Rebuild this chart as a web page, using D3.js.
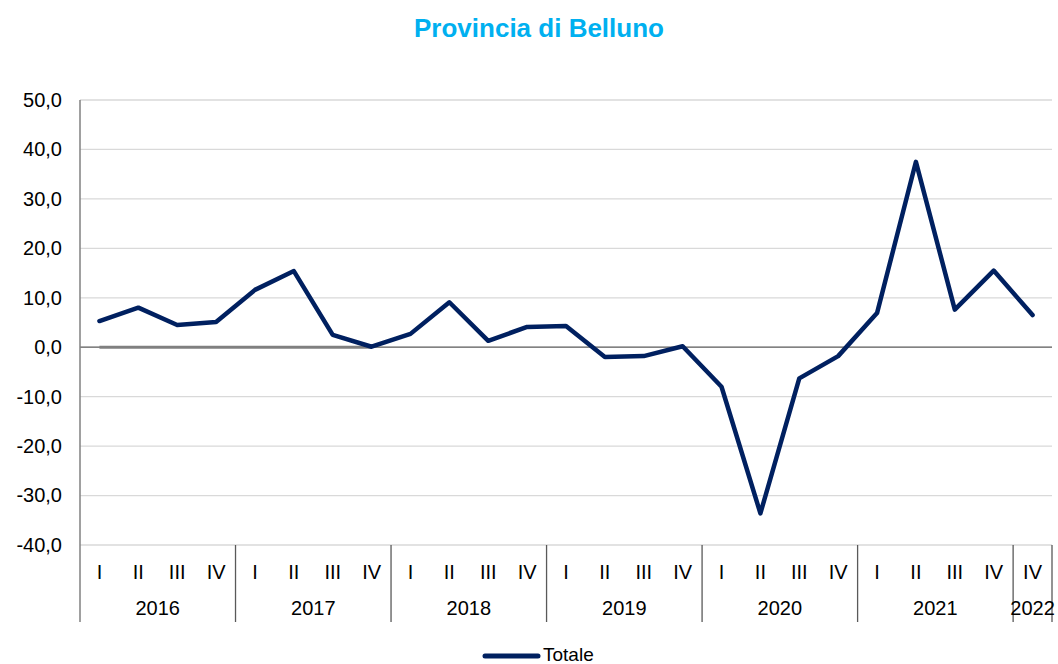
<!DOCTYPE html>
<html><head><meta charset="utf-8">
<script src="https://cdn.jsdelivr.net/npm/d3@7"></script>
<style>body{margin:0;background:#fff;} svg{display:block;font-family:"Liberation Sans",Arial,sans-serif;}</style>
</head><body>
<svg id="c" width="1058" height="664"></svg>
<script>
const years = ["2016","2017","2018","2019","2020","2021","2022"];
const quarterLabels = ["I","II","III","IV","I","II","III","IV","I","II","III","IV","I","II","III","IV","I","II","III","IV","I","II","III","IV","IV"];
const yearOfPoint = ["2016","2016","2016","2016","2017","2017","2017","2017","2018","2018","2018","2018","2019","2019","2019","2019","2020","2020","2020","2020","2021","2021","2021","2021","2022"];
const totale = [5.3,8.0,4.5,5.1,11.6,15.4,2.5,0.1,2.7,9.1,1.3,4.1,4.3,-2.0,-1.8,0.2,-8.0,-33.6,-6.3,-1.8,6.9,37.5,7.6,15.5,6.5];
const zeroSeries = [0,0,0,0,0,0,0,0];
const yTicks = [50,40,30,20,10,0,-10,-20,-30,-40];

const svg = d3.select("#c");
const L = 80, R = 1052, T = 100, B = 545;
const idx = d3.range(totale.length);
const x = d3.scaleBand().domain(idx).range([L, R]);
const y = d3.scaleLinear().domain([-40, 50]).range([B, T]);
const fmt = v => d3.format(".1f")(v).replace(".", ",").replace("−","-");

// title
svg.append("text").attr("x", 539).attr("y", 37).attr("text-anchor", "middle")
  .attr("font-size", 26).attr("font-weight", "bold").attr("fill", "#00B0F0").text("Provincia di Belluno");

// gridlines
svg.append("g").selectAll("line").data(yTicks.filter(d => d !== 0)).join("line")
  .attr("x1", L).attr("x2", R).attr("y1", d => y(d)).attr("y2", d => y(d))
  .attr("stroke", "#d9d9d9").attr("stroke-width", 1.3);

// y labels
const yAxis = d3.axisLeft(y).tickValues(yTicks).tickSize(0).tickPadding(18).tickFormat(fmt);
const ga = svg.append("g").attr("transform", `translate(${L},0)`).call(yAxis);
ga.select(".domain").remove();
ga.selectAll("text").attr("font-size", 20).attr("fill", "#000").attr("font-family", '"Liberation Sans",Arial,sans-serif');

// zero line
svg.append("line").attr("x1", L).attr("x2", R).attr("y1", y(0)).attr("y2", y(0))
  .attr("stroke", "#595959").attr("stroke-width", 1.3);

// left axis
svg.append("line").attr("x1", L).attr("x2", L).attr("y1", T).attr("y2", 622)
  .attr("stroke", "#808080").attr("stroke-width", 1.5);

// year separators
const sepIdx = [];
years.forEach(yr => { const i = yearOfPoint.indexOf(yr); if (i > 0) sepIdx.push(x(i)); });
sepIdx.push(R);
svg.append("g").selectAll("line").data(sepIdx).join("line")
  .attr("x1", d => d).attr("x2", d => d).attr("y1", B).attr("y2", 622)
  .attr("stroke", "#595959").attr("stroke-width", 1.3);

// quarter labels
svg.append("g").selectAll("text").data(idx).join("text")
  .attr("x", i => x(i) + x.bandwidth() / 2).attr("y", 579).attr("text-anchor", "middle")
  .attr("font-size", 20).attr("fill", "#000").text(i => quarterLabels[i]);

// year labels
svg.append("g").selectAll("text").data(years).join("text")
  .attr("x", yr => {
    const ii = idx.filter(i => yearOfPoint[i] === yr);
    return (x(ii[0]) + x(ii[ii.length - 1]) + x.bandwidth()) / 2;
  })
  .attr("y", 615).attr("text-anchor", "middle").attr("font-size", 20).attr("fill", "#000").text(d => d);

// zero series (grey)
const line = d3.line().x((d, i) => x(i) + x.bandwidth() / 2).y(d => y(d));
svg.append("path").datum(zeroSeries).attr("d", line).attr("fill", "none")
  .attr("stroke", "#808080").attr("stroke-width", 3);

// main series
svg.append("path").datum(totale).attr("d", line).attr("fill", "none")
  .attr("stroke", "#002060").attr("stroke-width", 4.5).attr("stroke-linejoin", "round").attr("stroke-linecap", "round");

// legend
svg.append("line").attr("x1", 485).attr("x2", 538).attr("y1", 656).attr("y2", 656)
  .attr("stroke", "#002060").attr("stroke-width", 5).attr("stroke-linecap", "round");
svg.append("text").attr("x", 543).attr("y", 661).attr("font-size", 19).attr("fill", "#000").text("Totale");
</script>
</body></html>
